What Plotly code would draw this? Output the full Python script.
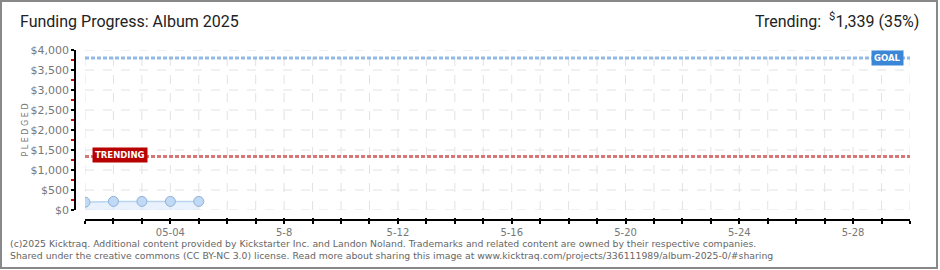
import plotly.graph_objects as go
import pandas as pd

# ---- data ----
dates = ["2025-05-01", "2025-05-02", "2025-05-03", "2025-05-04", "2025-05-05"]
pledged = [195, 215, 215, 215, 215]
goal = 3800
trending = 1339
trending_pct = 35

tick_dates = [d.strftime("%Y-%m-%d") for d in pd.date_range("2025-05-01", "2025-05-30", freq="D")]
label_map = {"2025-05-04": "05-04", "2025-05-08": "5-8", "2025-05-12": "5-12",
             "2025-05-16": "5-16", "2025-05-20": "5-20", "2025-05-24": "5-24",
             "2025-05-28": "5-28"}
tick_labels = [label_map.get(d, "") for d in tick_dates]
y_tickvals = [0, 500, 1000, 1500, 2000, 2500, 3000, 3500, 4000]
y_ticktext = ["$0", "$500", "$1,000", "$1,500", "$2,000", "$2,500", "$3,000", "$3,500", "$4,000"]

W, H = 940, 270
ML, MR, MT, MB = 75, 30, 50, 50
PW, PH = W - ML - MR, H - MT - MB

x_start, x_end = tick_dates[0], tick_dates[-1]
GRID = "#e2e2e2"

fig = go.Figure()

# dashed grid drawn from the tick arrays
for d in tick_dates:
    fig.add_shape(type="line", xref="x", yref="y", x0=d, x1=d,
                  y0=y_tickvals[0], y1=y_tickvals[-1],
                  line=dict(color=GRID, width=1, dash="dash"), layer="below")
for v in y_tickvals:
    fig.add_shape(type="line", xref="x", yref="y", x0=x_start, x1=x_end, y0=v, y1=v,
                  line=dict(color=GRID, width=1, dash="dash"), layer="below")

# goal & trending reference lines
fig.add_trace(go.Scatter(x=[x_start, x_end], y=[goal, goal], mode="lines",
                         line=dict(color="#93b9e6", width=3, dash="4px,2px"),
                         hoverinfo="skip", showlegend=False))
fig.add_trace(go.Scatter(x=[x_start, x_end], y=[trending, trending], mode="lines",
                         line=dict(color="#d67676", width=3, dash="4px,2px"),
                         hoverinfo="skip", showlegend=False))

# pledged series
fig.add_trace(go.Scatter(x=dates, y=pledged, mode="lines+markers",
                         line=dict(color="#b8d4f0", width=1.5),
                         fill="tozeroy", fillcolor="rgba(215,232,250,0.55)",
                         marker=dict(size=10, color="#c0daf5",
                                     line=dict(color="#8fb0d8", width=1)),
                         showlegend=False))

# overlay axis for inside half of x ticks
fig.add_trace(go.Scatter(x=[x_start], y=[0], xaxis="x2", mode="markers",
                         marker=dict(opacity=0), hoverinfo="skip", showlegend=False))

fig.update_layout(
    width=W, height=H,
    margin=dict(l=ML, r=MR, t=MT, b=MB),
    paper_bgcolor="white", plot_bgcolor="white",
    font=dict(family="DejaVu Sans", size=11, color="#666"),
    xaxis=dict(
        type="date",
        domain=[10 / PW, 1],
        range=[x_start, x_end],
        tickmode="array", tickvals=tick_dates, ticktext=tick_labels,
        ticks="outside", ticklen=3, tickwidth=1.5, tickcolor="black",
        showline=True, linecolor="black", linewidth=1.5,
        showgrid=False,
        anchor="free", position=0,
        tickfont=dict(family="DejaVu Sans", size=10, color="#777"),
        zeroline=False,
    ),
    xaxis2=dict(
        type="date", matches="x", overlaying="x",
        tickmode="array", tickvals=tick_dates, ticktext=["" for _ in tick_dates],
        ticks="inside", ticklen=2, tickwidth=1.5, tickcolor="black",
        showgrid=False, showline=False, anchor="free", position=0,
        showticklabels=False,
    ),
    yaxis=dict(
        domain=[10 / PH, 1],
        range=[0, 4000],
        tickmode="array", tickvals=y_tickvals, ticktext=y_ticktext,
        ticks="outside", ticklen=3, tickwidth=1.5, tickcolor="black",
        minor=dict(dtick=250, tick0=0, ticks="outside", ticklen=3,
                   tickwidth=1.5, tickcolor="#e00000", showgrid=False),
        showline=True, linecolor="black", linewidth=1.5,
        showgrid=False,
        anchor="free", position=0,
        zeroline=False,
        tickfont=dict(family="DejaVu Sans", size=11, color="#777"),
        title=dict(text="P L E D G E D", font=dict(family="DejaVu Sans", size=8, color="#777"),
                   standoff=0),
    ),
)

# frame
fig.add_shape(type="rect", xref="paper", yref="paper",
              x0=(1 - ML) / PW, x1=(937 - ML) / PW,
              y0=(H - MB - 268) / PH, y1=(H - MB - 1) / PH,
              line=dict(color="#888", width=2), fillcolor="rgba(0,0,0,0)", layer="above")

# title
fig.add_annotation(text="Funding Progress: Album 2025", xref="paper", yref="paper",
                   x=(18 - ML) / PW, y=(H - MB - 22) / PH, xanchor="left", yanchor="middle",
                   showarrow=False, font=dict(family="Roboto", size=16, color="#222"))
fig.add_annotation(text=f"Trending:  <sup>$</sup>{trending:,} ({trending_pct}%)",
                   xref="paper", yref="paper",
                   x=(921 - ML) / PW, y=(H - MB - 21) / PH, xanchor="right", yanchor="middle",
                   showarrow=False, font=dict(family="Roboto", size=16, color="#222"))

# labels on lines
fig.add_annotation(text="<b>GOAL</b>", x="2025-05-29 05:00", y=goal, xref="x", yref="y",
                   showarrow=False, bgcolor="#3a87d8", borderpad=2,
                   font=dict(family="DejaVu Sans", size=8.5, color="white"))
fig.add_annotation(text="<b>TRENDING</b>", x="2025-05-02 05:30", y=trending + 30, xref="x", yref="y",
                   showarrow=False, bgcolor="#b80000", borderpad=2,
                   font=dict(family="DejaVu Sans", size=8.5, color="white"))

# footer
footer = ("(c)2025 Kicktraq. Additional content provided by Kickstarter Inc. and Landon Noland. "
          "Trademarks and related content are owned by their respective companies.<br>"
          "Shared under the creative commons (CC BY-NC 3.0) license. Read more about sharing this image at "
          "www.kicktraq.com/projects/336111989/album-2025-0/#sharing")
fig.add_annotation(text=footer, xref="paper", yref="paper",
                   x=(8 - ML) / PW, y=(H - MB - 236) / PH, xanchor="left", yanchor="top",
                   align="left", showarrow=False,
                   font=dict(family="DejaVu Sans", size=9.3, color="#666"))

fig.write_html("out.html")
